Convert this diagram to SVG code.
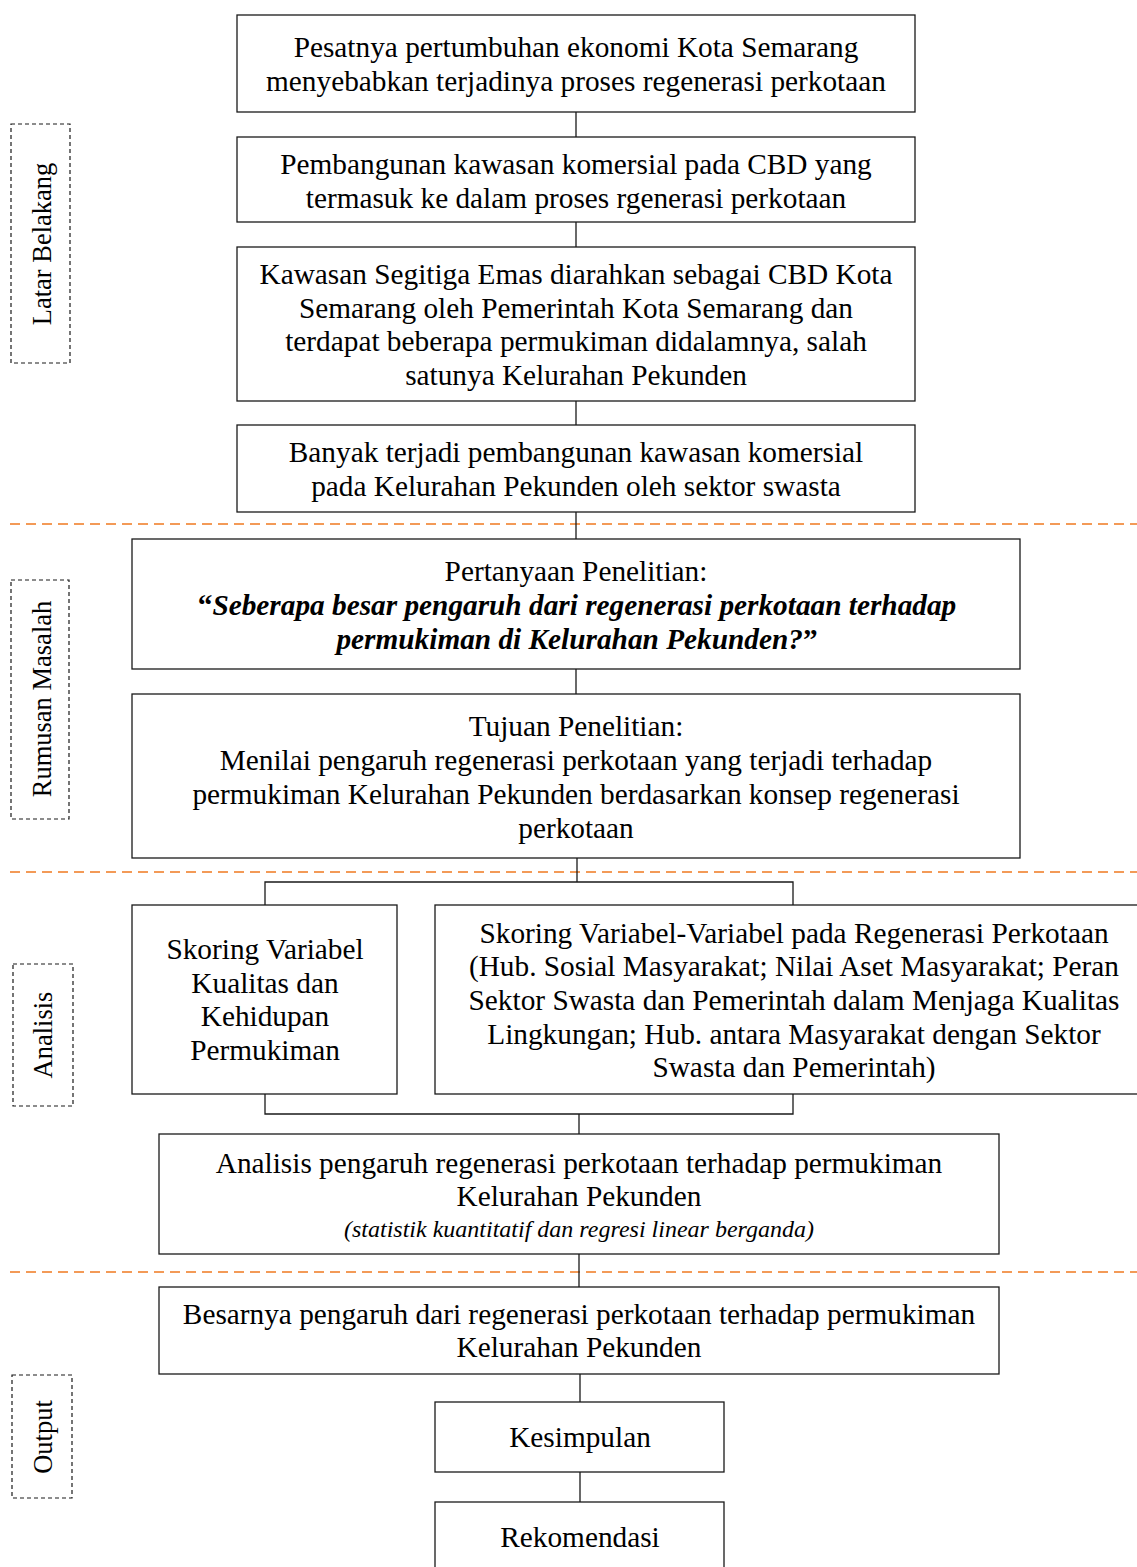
<svg xmlns="http://www.w3.org/2000/svg" width="1137" height="1567" viewBox="0 0 1137 1567">
<style>
.box{fill:#fff;stroke:#1a1a1a;stroke-width:1.3}
.side{fill:none;stroke:#1a1a1a;stroke-width:1.2;stroke-dasharray:4 3}
.sep{fill:none;stroke:#F39A57;stroke-width:1.8;stroke-dasharray:10 6}
.con{fill:none;stroke:#1a1a1a;stroke-width:1.3}
text{font-family:"Liberation Serif","Times New Roman",serif;fill:#000;text-anchor:middle}
.t{font-size:29.3px}
.s{font-size:26.5px;dominant-baseline:central}
.i{font-size:24px;font-style:italic}
.bi{font-weight:bold;font-style:italic}
.bq{font-weight:bold;font-style:normal}
</style>
<rect width="1137" height="1567" fill="#fff"/>
<g id="separators">
<line class="sep" x1="10" y1="524" x2="1137" y2="524"/>
<line class="sep" x1="10" y1="872" x2="1137" y2="872"/>
<line class="sep" x1="10" y1="1272" x2="1137" y2="1272"/>
</g>
<g id="connectors">
<line class="con" x1="576" y1="112" x2="576" y2="137"/>
<line class="con" x1="576" y1="222" x2="576" y2="247"/>
<line class="con" x1="576" y1="401" x2="576" y2="425"/>
<line class="con" x1="576" y1="512" x2="576" y2="539"/>
<line class="con" x1="576" y1="669" x2="576" y2="694"/>
<polyline class="con" points="577,858 577,882"/>
<polyline class="con" points="265,905 265,882 793,882 793,905"/>
<polyline class="con" points="265,1094 265,1114 793,1114 793,1094"/>
<line class="con" x1="579" y1="1114" x2="579" y2="1134"/>
<line class="con" x1="579" y1="1254" x2="579" y2="1287"/>
<line class="con" x1="580" y1="1374" x2="580" y2="1402"/>
<line class="con" x1="580" y1="1472" x2="580" y2="1502"/>
</g>
<g id="label-latar">
<rect class="side" x="11" y="124" width="59" height="239"/>
<text class="s" transform="translate(42,244) rotate(-90)">Latar Belakang</text>
</g>
<g id="label-rumusan">
<rect class="side" x="11" y="580" width="58" height="239"/>
<text class="s" transform="translate(42,699) rotate(-90)">Rumusan Masalah</text>
</g>
<g id="label-analisis">
<rect class="side" x="13" y="964" width="60" height="142"/>
<text class="s" transform="translate(43,1035) rotate(-90)">Analisis</text>
</g>
<g id="label-output">
<rect class="side" x="12" y="1375" width="60" height="123"/>
<text class="s" transform="translate(43,1437) rotate(-90)">Output</text>
</g>
<g id="n1">
<rect class="box" x="237" y="15" width="678" height="97"/>
<text class="t" x="576" y="57">Pesatnya pertumbuhan ekonomi Kota Semarang</text>
<text class="t" x="576" y="91">menyebabkan terjadinya proses regenerasi perkotaan</text>
</g>
<g id="n2">
<rect class="box" x="237" y="137" width="678" height="85"/>
<text class="t" x="576" y="174">Pembangunan kawasan komersial pada CBD yang</text>
<text class="t" x="576" y="208">termasuk ke dalam proses rgenerasi perkotaan</text>
</g>
<g id="n3">
<rect class="box" x="237" y="247" width="678" height="154"/>
<text class="t" x="576" y="284">Kawasan Segitiga Emas diarahkan sebagai CBD Kota</text>
<text class="t" x="576" y="318">Semarang oleh Pemerintah Kota Semarang dan</text>
<text class="t" x="576" y="351">terdapat beberapa permukiman didalamnya, salah</text>
<text class="t" x="576" y="385">satunya Kelurahan Pekunden</text>
</g>
<g id="n4">
<rect class="box" x="237" y="425" width="678" height="87"/>
<text class="t" x="576" y="462">Banyak terjadi pembangunan kawasan komersial</text>
<text class="t" x="576" y="496">pada Kelurahan Pekunden oleh sektor swasta</text>
</g>
<g id="n5">
<rect class="box" x="132" y="539" width="888" height="130"/>
<text class="t" x="576" y="581">Pertanyaan Penelitian:</text>
<text class="t" x="577" y="615"><tspan class="bq">“</tspan><tspan class="bi">Seberapa besar pengaruh dari regenerasi perkotaan terhadap</tspan></text>
<text class="t" x="577" y="649"><tspan class="bi">permukiman di Kelurahan Pekunden?</tspan><tspan class="bq">”</tspan></text>
</g>
<g id="n6">
<rect class="box" x="132" y="694" width="888" height="164"/>
<text class="t" x="576" y="736">Tujuan Penelitian:</text>
<text class="t" x="576" y="770">Menilai pengaruh regenerasi perkotaan yang terjadi terhadap</text>
<text class="t" x="576" y="804">permukiman Kelurahan Pekunden berdasarkan konsep regenerasi</text>
<text class="t" x="576" y="838">perkotaan</text>
</g>
<g id="n7">
<rect class="box" x="132" y="905" width="265" height="189"/>
<text class="t" x="265" y="959">Skoring Variabel</text>
<text class="t" x="265" y="993">Kualitas dan</text>
<text class="t" x="265" y="1026">Kehidupan</text>
<text class="t" x="265" y="1060">Permukiman</text>
</g>
<g id="n8">
<rect class="box" x="435" y="905" width="717" height="189"/>
<text class="t" x="794" y="943">Skoring Variabel-Variabel pada Regenerasi Perkotaan</text>
<text class="t" x="794" y="976">(Hub. Sosial Masyarakat; Nilai Aset Masyarakat; Peran</text>
<text class="t" x="794" y="1010">Sektor Swasta dan Pemerintah dalam Menjaga Kualitas</text>
<text class="t" x="794" y="1044">Lingkungan; Hub. antara Masyarakat dengan Sektor</text>
<text class="t" x="794" y="1077">Swasta dan Pemerintah)</text>
</g>
<g id="n9">
<rect class="box" x="159" y="1134" width="840" height="120"/>
<text class="t" x="579" y="1173">Analisis pengaruh regenerasi perkotaan terhadap permukiman</text>
<text class="t" x="579" y="1206">Kelurahan Pekunden</text>
<text class="i" x="579" y="1237">(statistik kuantitatif dan regresi linear berganda)</text>
</g>
<g id="n10">
<rect class="box" x="159" y="1287" width="840" height="87"/>
<text class="t" x="579" y="1324">Besarnya pengaruh dari regenerasi perkotaan terhadap permukiman</text>
<text class="t" x="579" y="1357">Kelurahan Pekunden</text>
</g>
<g id="n11">
<rect class="box" x="435" y="1402" width="289" height="70"/>
<text class="t" x="580" y="1447">Kesimpulan</text>
</g>
<g id="n12">
<rect class="box" x="435" y="1502" width="289" height="80"/>
<text class="t" x="580" y="1547">Rekomendasi</text>
</g>
</svg>
